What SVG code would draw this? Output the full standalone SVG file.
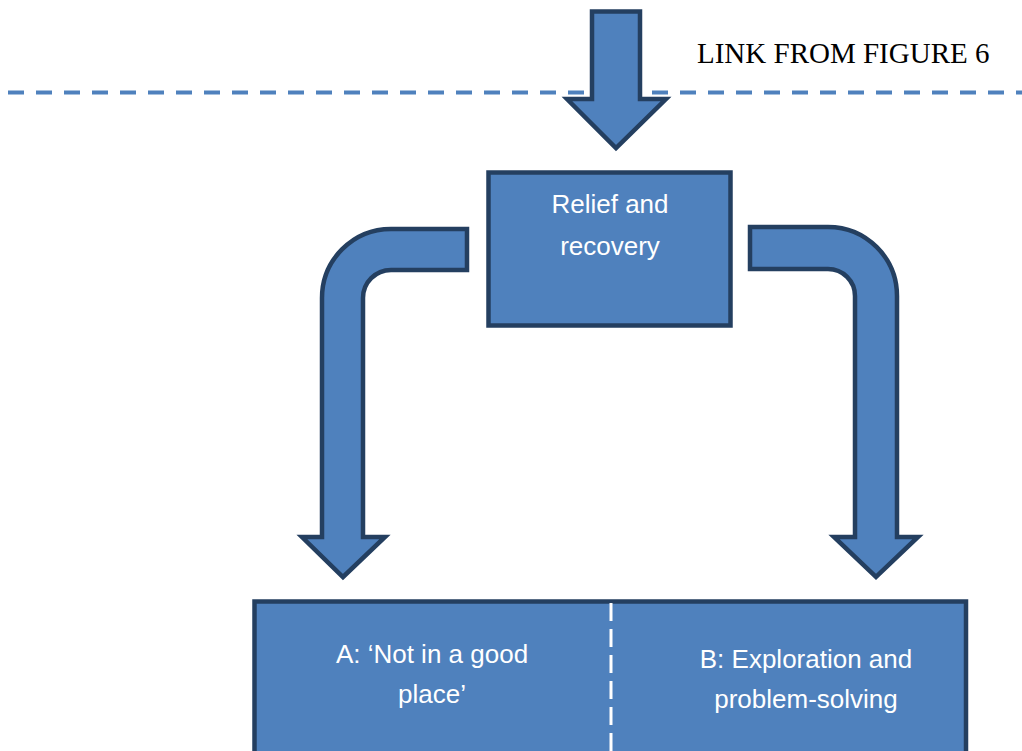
<svg xmlns="http://www.w3.org/2000/svg" width="1022" height="751" viewBox="0 0 1022 751">
<style>
.shape{fill:#4F81BD;stroke:#243F60;stroke-width:4.5;stroke-linejoin:miter}
.lbl{font-family:"Liberation Sans",Arial,sans-serif;font-size:26px;fill:#FFFFFF;text-anchor:middle}
.link{font-family:"Liberation Serif","Times New Roman",serif;font-size:29px;fill:#000000}
</style>
<rect width="1022" height="751" fill="#FFFFFF"/>
<line x1="8" y1="92.5" x2="1022" y2="92.5" stroke="#4F81BD" stroke-width="4" stroke-dasharray="16 12"/>
<text class="link" x="697" y="63">LINK FROM FIGURE 6</text>
<g id="connectors">
<path id="arrow-top" class="shape" d="M592,11.5 H640 V99 H666 L616,148 L567,99 H592 Z"/>
<path id="arrow-left" class="shape" d="M467,229 H391 A69,69 0 0 0 322,298 V537 H302 L343,577 L385,537 H363 V298 A28,28 0 0 1 391,270 H467 Z"/>
<path id="arrow-right" class="shape" d="M750,227 H828 A69,69 0 0 1 897,296 V537 H918 L876,577 L834,537 H855 V296 A27,27 0 0 0 828,269 H750 Z"/>
</g>
<g id="node-relief">
<rect class="shape" x="488.5" y="172.5" width="242" height="153" stroke-width="5"/>
<text class="lbl" x="610" y="213">Relief and</text>
<text class="lbl" x="610" y="255">recovery</text>
</g>
<g id="node-bottom">
<rect class="shape" x="254.5" y="601.5" width="711.5" height="160" stroke-width="5"/>
<line x1="611" y1="603" x2="611" y2="751" stroke="#FFFFFF" stroke-width="3" stroke-dasharray="18 8"/>
<text class="lbl" x="432" y="663">A: ‘Not in a good</text>
<text class="lbl" x="432" y="703">place’</text>
<text class="lbl" x="806" y="668">B: Exploration and</text>
<text class="lbl" x="806" y="708">problem-solving</text>
</g>
</svg>
